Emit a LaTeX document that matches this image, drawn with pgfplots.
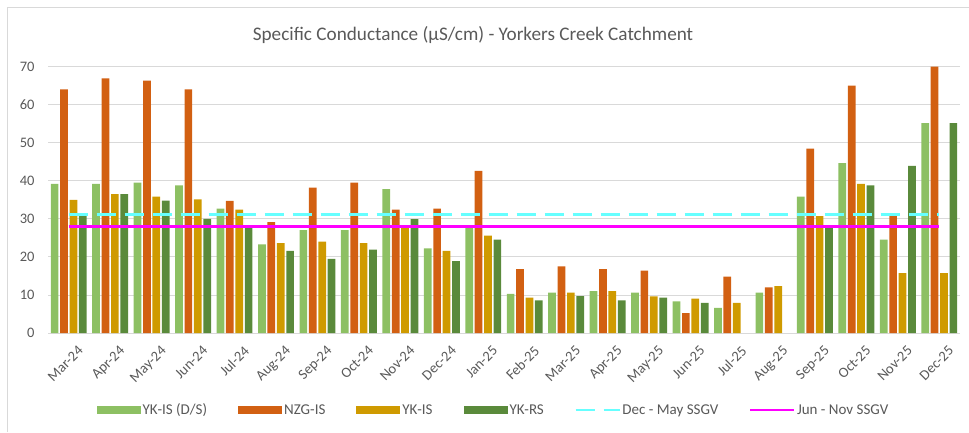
\documentclass[border=0pt]{standalone}
\usepackage{pgfplots}
\pgfplotsset{compat=1.18}
\usepackage{fontspec}
\setmainfont{Carlito}
\definecolor{cLG}{HTML}{8DC063}
\definecolor{cOR}{HTML}{D26012}
\definecolor{cGD}{HTML}{CF9A00}
\definecolor{cDG}{HTML}{5A8A3B}
\definecolor{cCY}{HTML}{66FFFF}
\definecolor{cMG}{HTML}{FF00FF}
\definecolor{cTX}{HTML}{595959}
\definecolor{cGR}{HTML}{D9D9D9}
\begin{document}
\begin{tikzpicture}[x=1pt,y=1pt]
\path[use as bounding box] (0,0) rectangle (969,432);
\draw[cGR, line width=0.8pt] (7,0) -- (7,425) -- (969,425);
\node[text=cTX, font=\fontsize{19.2}{23}\selectfont] at (473,397) {Specific Conductance (µS/cm) - Yorkers Creek Catchment};
\begin{axis}[
  at={(48pt,99pt)}, anchor=south west,
  scale only axis, width=912pt, height=266.5pt,
  xmin=-0.5, xmax=21.5, ymin=0, ymax=70,
  ytick={0,10,...,70},
  xtick={0,...,21},
  xticklabels={Mar-24,Apr-24,May-24,Jun-24,Jul-24,Aug-24,Sep-24,Oct-24,Nov-24,Dec-24,Jan-25,Feb-25,Mar-25,Apr-25,May-25,Jun-25,Jul-25,Aug-25,Sep-25,Oct-25,Nov-25,Dec-25},
  major tick length=0pt,
  axis line style={draw=none},
  ymajorgrids, grid style={cGR, line width=0.8pt},
  /pgf/number format/assume math mode=true,
  tick label style={text=cTX, font=\fontsize{14.5}{17}\selectfont},
  yticklabel style={xshift=-10pt},
  xticklabel style={rotate=45, anchor=north east, yshift=-11pt, xshift=1pt},
  legend style={draw=none, at={(0.4885,-0.289)}, anchor=center, legend columns=6,
    font=\fontsize{15}{18}\selectfont, text=cTX,
    /tikz/every even column/.append style={column sep=29pt}},
  barleg/.style={legend image code/.code={\fill[##1] (0pt,-4pt) rectangle (44pt,4pt);}},
  lineleg/.style={legend image code/.code={\draw[##1, line width=1.6pt] (0pt,0pt) -- (44pt,0pt);}},
]
\addplot[ybar, bar width=7.7pt, bar shift=-14.1pt, fill=cLG, draw=none, barleg] coordinates {
(0,39.2) (1,39.2) (2,39.5) (3,38.8) (4,32.7) (5,23.3) (6,27.0) (7,27.0) (8,37.8) (9,22.2) (10,27.7)
(11,10.3) (12,10.6) (13,11.0) (14,10.6) (15,8.3) (16,6.6) (17,10.6) (18,35.8) (19,44.6) (20,24.5) (21,55.1)};
\addlegendentry{YK-IS (D/S)}
\addplot[ybar, bar width=7.7pt, bar shift=-4.7pt, fill=cOR, draw=none, barleg] coordinates {
(0,64.0) (1,66.9) (2,66.3) (3,64.0) (4,34.7) (5,29.1) (6,38.2) (7,39.5) (8,32.4) (9,32.7) (10,42.6)
(11,16.8) (12,17.5) (13,16.8) (14,16.4) (15,5.2) (16,14.8) (17,12.0) (18,48.4) (19,65.0) (20,31.1) (21,70.0)};
\addlegendentry{NZG-IS}
\addplot[ybar, bar width=7.7pt, bar shift=4.7pt, fill=cGD, draw=none, barleg] coordinates {
(0,35.0) (1,36.5) (2,35.8) (3,35.1) (4,32.4) (5,23.6) (6,24.0) (7,23.6) (8,28.0) (9,21.6) (10,25.6)
(11,9.3) (12,10.6) (13,11.0) (14,9.6) (15,9.0) (16,7.9) (17,12.3) (18,30.7) (19,39.2) (20,15.7) (21,15.7)};
\addlegendentry{YK-IS}
\addplot[ybar, bar width=7.7pt, bar shift=14.1pt, fill=cDG, draw=none, barleg] coordinates {
(0,31.0) (1,36.5) (2,34.8) (3,30.0) (4,27.8) (5,21.6) (6,19.5) (7,21.9) (8,29.9) (9,18.9) (10,24.5)
(11,8.6) (12,9.7) (13,8.6) (14,9.3) (15,7.9) (18,28.0) (19,38.8) (20,43.9) (21,55.1)};
\addlegendentry{YK-RS}
\addplot[cCY, line width=3pt, dash pattern=on 19pt off 9pt, lineleg] coordinates {(0,31) (21,31)};
\addlegendentry{Dec - May SSGV}
\addplot[cMG, line width=3pt, lineleg] coordinates {(0,28) (21,28)};
\addlegendentry{Jun - Nov SSGV}
\end{axis}
\end{tikzpicture}
\end{document}
